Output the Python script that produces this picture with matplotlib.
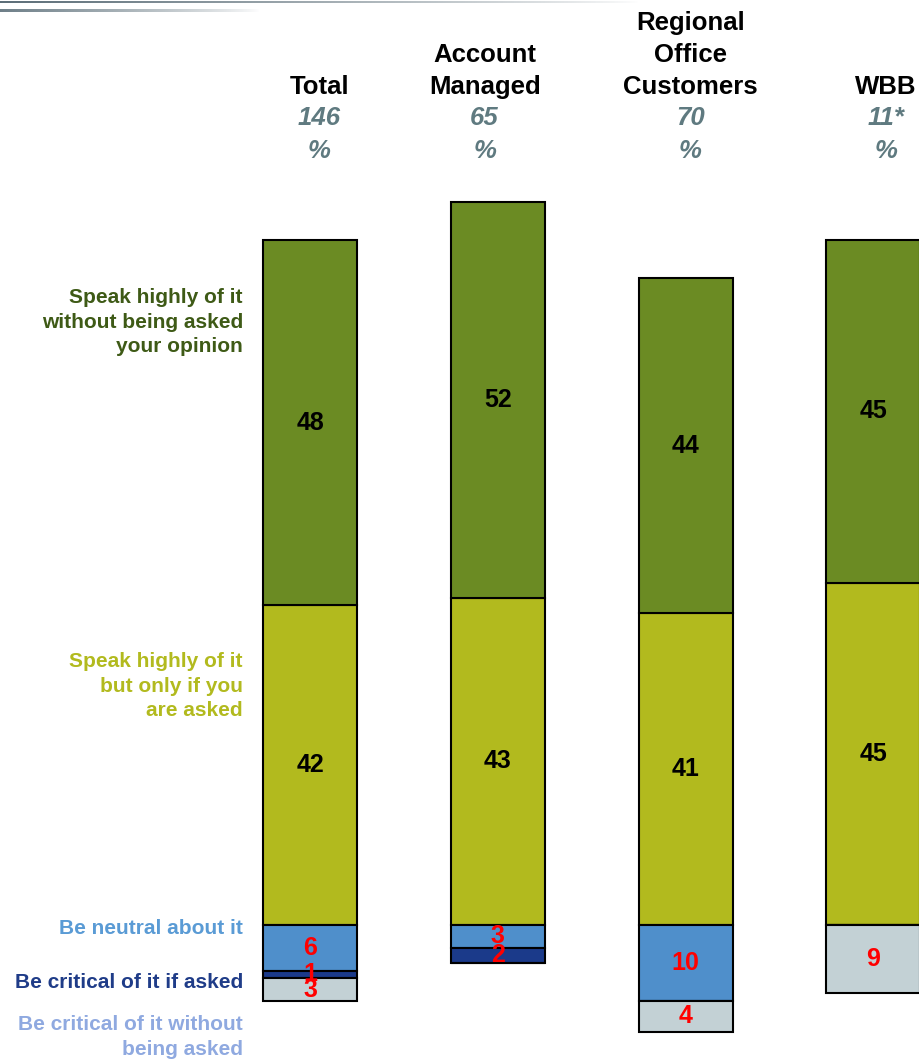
import numpy as np
import matplotlib
matplotlib.use("Agg")
import matplotlib.pyplot as plt
from matplotlib.colors import to_rgb

plt.rcParams['font.family'] = ['Liberation Sans', 'DejaVu Sans']

# ---- data ----
groups = ['Total', 'Account\nManaged', 'Regional\nOffice\nCustomers', 'WBB']
bases = ['146', '65', '70', '11*']
# positive side (stacked upward from the baseline)
asked_high = [42, 43, 41, 45]        # speak highly of it but only if asked
unasked_high = [48, 52, 44, 45]      # speak highly without being asked
# negative side (stacked downward from the baseline)
neutral = [6, 3, 10, 0]
critical_asked = [1, 2, 0, 0]
critical_unasked = [3, 0, 4, 9]

cat_labels = ['Speak highly of it\nwithout being asked\nyour opinion',
              'Speak highly of it\nbut only if you\nare asked',
              'Be neutral about it',
              'Be critical of it if asked',
              'Be critical of it without\nbeing asked']

c_green = '#6B8B23'
c_yellow = '#B2BA1E'
c_neutral = '#4F8FCB'
c_crit = '#1B3A8A'
c_crit2 = '#C3D1D5'
txt_cols = ['#3E5A16', '#B2BA1E', '#5A9BD5', '#1F3C88', '#8FA9E0']
base_col = '#5F7A80'

fig = plt.figure(figsize=(9.19, 10.62), dpi=100)
ax = fig.add_axes([0, 0, 1, 1])
ax.set_xlim(-310 / 187.8, (919 - 310) / 187.8)
ax.set_ylim(-137 / 7.61, 925 / 7.61)
ax.axis('off')

x = np.arange(len(groups))
w = 0.5
kw = dict(width=w, edgecolor='black', linewidth=1.5)

b1 = ax.bar(x, asked_high, color=c_yellow, **kw)
b2 = ax.bar(x, unasked_high, bottom=asked_high, color=c_green, **kw)
neg1 = -np.array(neutral)
neg2 = -np.array(critical_asked)
neg3 = -np.array(critical_unasked)
b3 = ax.bar(x, neg1, color=c_neutral, **kw)
b4 = ax.bar(x, neg2, bottom=neg1, color=c_crit, **kw)
b5 = ax.bar(x, neg3, bottom=neg1 + neg2, color=c_crit2, **kw)

# value labels
for bars, vals, col in [(b1, asked_high, 'black'), (b2, unasked_high, 'black'),
                        (b3, neutral, 'red'), (b4, critical_asked, 'red'),
                        (b5, critical_unasked, 'red')]:
    for rect, v in zip(bars, vals):
        if v == 0:
            continue
        cy = rect.get_y() + rect.get_height() / 2
        ax.text(rect.get_x() + rect.get_width() / 2, cy, str(v), ha='center',
                va='center', fontsize=18, fontweight='bold', color=col)

# column headers
head_dx = [0.05, -0.07, 0.025, 0.065]
for i, (g, n) in enumerate(zip(groups, bases)):
    ax.text(x[i] + head_dx[i], 108.6, g, ha='center', va='bottom', fontsize=18.5,
            fontweight='bold', linespacing=1.42, color='black')
    ax.text(x[i] + head_dx[i], 106.0, n, ha='center', va='center', fontsize=18.5,
            fontweight='bold', style='italic', color=base_col)
    ax.text(x[i] + head_dx[i], 101.7, '%', ha='center', va='center', fontsize=18.5,
            fontweight='bold', style='italic', color=base_col)

# category labels on the left
lab_y = [79.2, 31.4, -0.5, -7.6, -14.7]
for lab, ly, col in zip(cat_labels, lab_y, txt_cols):
    ax.text(-0.357, ly, lab, ha='right', va='center', fontsize=15,
            fontweight='bold', color=col, linespacing=1.36)

# decorative gradient lines at the top
def grad_line(x0, x1, ypix, hpix, c0):
    gax = fig.add_axes([x0 / 919, 1 - (ypix + hpix / 2) / 1062,
                        (x1 - x0) / 919, hpix / 1062])
    img = np.zeros((1, 200, 4))
    img[..., :3] = to_rgb(c0)
    img[0, :, 3] = np.linspace(1, 0, 200) ** 0.8
    gax.imshow(img, aspect='auto', interpolation='bilinear')
    gax.axis('off')

grad_line(0, 640, 2, 3, '#5C6E78')
grad_line(0, 260, 10.5, 3, '#6E7F88')

fig.savefig('out.png', dpi=100)
